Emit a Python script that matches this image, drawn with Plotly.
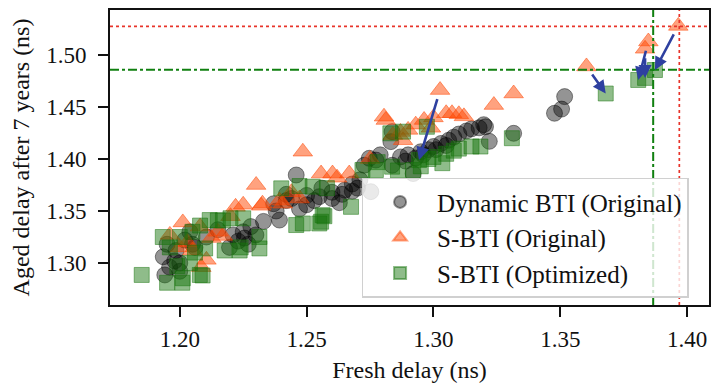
import plotly.graph_objects as go

# ---------------- data ----------------
dyn_x = [1.1935, 1.1941, 1.1960, 1.1950, 1.1985, 1.2000, 1.2020, 1.2050, 1.2040, 1.2105,
         1.2150, 1.2196, 1.2210, 1.2255, 1.2270, 1.2300, 1.2280, 1.2330, 1.2393, 1.2380,
         1.2370, 1.2459, 1.2420, 1.2472, 1.2500, 1.2550, 1.2560, 1.2600, 1.2629, 1.2650,
         1.2680, 1.2700, 1.2747, 1.2753, 1.2773, 1.2727, 1.2790, 1.2837, 1.2832, 1.2837,
         1.2870, 1.2900, 1.2920, 1.2950, 1.2980, 1.3000, 1.3030, 1.3060, 1.3080, 1.3100,
         1.3130, 1.3150, 1.3180, 1.3198, 1.3220, 1.3205, 1.3316, 1.3477, 1.3505, 1.3517,
         1.2890, 1.2930, 1.2960, 1.3010, 1.3050, 1.2420, 1.2440, 1.2500, 1.2530, 1.2600,
         1.2640, 1.2680, 1.2710, 1.2250, 1.2230, 1.2000, 1.1980, 1.2060]
dyn_y = [1.306, 1.2885, 1.296, 1.318, 1.312, 1.300, 1.322, 1.318, 1.330, 1.325,
         1.332, 1.315, 1.327, 1.324, 1.318, 1.327, 1.335, 1.340, 1.3413, 1.350,
         1.357, 1.3846, 1.360, 1.352, 1.356, 1.3638, 1.372, 1.368, 1.358, 1.370,
         1.376, 1.372, 1.4007, 1.3686, 1.399, 1.394, 1.404, 1.4263, 1.4167, 1.394,
         1.402, 1.404, 1.386, 1.407, 1.409, 1.412, 1.415, 1.418, 1.421, 1.424,
         1.427, 1.429, 1.430, 1.433, 1.417, 1.431, 1.4247, 1.444, 1.448, 1.460,
         1.398, 1.401, 1.404, 1.409, 1.413, 1.366, 1.362, 1.365, 1.360, 1.362,
         1.366, 1.369, 1.380, 1.330, 1.321, 1.292, 1.302, 1.315]

sbti_x = [1.1961, 1.2012, 1.2000, 1.2030, 1.2050, 1.2105, 1.2125, 1.2080, 1.2150, 1.2200,
          1.2220, 1.2250, 1.2301, 1.2326, 1.2321, 1.2393, 1.2406, 1.2472, 1.2485, 1.2557,
          1.2602, 1.2620, 1.2668, 1.2750, 1.2805, 1.2812, 1.2840, 1.2870, 1.2900, 1.2930,
          1.2963, 1.3000, 1.3026, 1.3050, 1.3073, 1.3100, 1.3120, 1.3238, 1.3316, 1.3603,
          1.3834, 1.3847, 1.3965, 1.2085, 1.2170, 1.2440, 1.2880, 1.2990]
sbti_y = [1.327, 1.339, 1.315, 1.320, 1.312, 1.303, 1.324, 1.335, 1.330, 1.345,
          1.354, 1.356, 1.375, 1.357, 1.355, 1.360, 1.357, 1.362, 1.407, 1.386,
          1.386, 1.382, 1.386, 1.400, 1.4407, 1.4375, 1.423, 1.426, 1.428, 1.433,
          1.4375, 1.440, 1.4663, 1.444, 1.444, 1.443, 1.441, 1.4519, 1.463, 1.489,
          1.506, 1.513, 1.528, 1.296, 1.326, 1.368, 1.418, 1.430]

opt_x = [1.1850, 1.1933, 1.1950, 1.1961, 1.2012, 1.2010, 1.2040, 1.2079, 1.2090, 1.2100,
         1.2118, 1.2170, 1.2177, 1.2236, 1.2240, 1.2314, 1.2314, 1.2000, 1.2050, 1.2080,
         1.2150, 1.2200, 1.2250, 1.2400, 1.2459, 1.2472, 1.2485, 1.2524, 1.2550, 1.2557,
         1.2563, 1.2580, 1.2675, 1.2720, 1.2773, 1.2780, 1.2837, 1.2860, 1.2920, 1.2943,
         1.2950, 1.2974, 1.2980, 1.3000, 1.3035, 1.3050, 1.3080, 1.3100, 1.3150, 1.3185,
         1.3309, 1.3679, 1.3807, 1.3834, 1.3873, 1.2830, 1.2880, 1.2570, 1.1990, 1.2060]
opt_y = [1.2885, 1.325, 1.281, 1.315, 1.2853, 1.281, 1.300, 1.2885, 1.288, 1.314,
         1.3413, 1.341, 1.312, 1.312, 1.315, 1.314, 1.325, 1.325, 1.330, 1.336,
         1.341, 1.343, 1.343, 1.3718, 1.3365, 1.374, 1.338, 1.3734, 1.338, 1.3397,
         1.346, 1.372, 1.354, 1.3894, 1.3894, 1.397, 1.3926, 1.389, 1.3894, 1.3990,
         1.393, 1.431, 1.400, 1.402, 1.396, 1.405, 1.408, 1.410, 1.412, 1.412,
         1.420, 1.463, 1.476, 1.478, 1.4856, 1.4247, 1.4263, 1.345, 1.297, 1.310]

# arrows: from S-BTI (original) point to S-BTI (optimized) point
arrow_from_x = [1.3026, 1.3603, 1.3847, 1.3834, 1.3965]
arrow_from_y = [1.4663, 1.489, 1.513, 1.506, 1.528]
arrow_to_x = [1.2943, 1.3679, 1.3807, 1.3834, 1.3873]
arrow_to_y = [1.3990, 1.463, 1.476, 1.478, 1.4856]

orig_worst_x, orig_worst_y = 1.3969, 1.5276
opt_worst_x, opt_worst_y = 1.3866, 1.4859

x_ticks = [1.20, 1.25, 1.30, 1.35, 1.40]
y_ticks = [1.30, 1.35, 1.40, 1.45, 1.50]

# ---------------- figure ----------------
FONT = "Liberation Serif"
TXT = "#111111"
fig = go.Figure()

c_dyn = "rgba(0,0,0,0.42)"
c_sbti = "rgba(255,69,0,0.5)"
c_opt = "rgba(20,115,10,0.48)"

fig.add_trace(go.Scatter(x=dyn_x, y=dyn_y, mode="markers", name="Dynamic BTI (Original)",
                         marker=dict(symbol="circle", size=16, color=c_dyn,
                                     line=dict(width=1, color=c_dyn))))
fig.add_trace(go.Scatter(x=sbti_x, y=sbti_y, mode="markers", name="S-BTI (Original)",
                         marker=dict(symbol="triangle-up", size=17, color=c_sbti,
                                     line=dict(width=1, color=c_sbti))))
fig.add_trace(go.Scatter(x=opt_x, y=opt_y, mode="markers", name="S-BTI (Optimized)",
                         marker=dict(symbol="square", size=15, color=c_opt,
                                     line=dict(width=1, color=c_opt))))

# reference lines
fig.add_hline(y=orig_worst_y, line=dict(color="#e8342a", width=1.7, dash="dot"))
fig.add_vline(x=orig_worst_x, line=dict(color="#e8342a", width=1.7, dash="dot"))
fig.add_hline(y=opt_worst_y, line=dict(color="#108010", width=2, dash="dashdot"))
fig.add_vline(x=opt_worst_x, line=dict(color="#108010", width=2, dash="dashdot"))

for fx, fy, tx, ty in zip(arrow_from_x, arrow_from_y, arrow_to_x, arrow_to_y):
    fig.add_annotation(x=tx, y=ty, ax=fx, ay=fy, xref="x", yref="y", axref="x", ayref="y",
                       showarrow=True, arrowhead=2, arrowsize=1.0, arrowwidth=2.6,
                       arrowcolor="#2e40a0", startstandoff=8, standoff=0, text="")

axis_common = dict(showgrid=False, zeroline=False, showline=True, linecolor="#111",
                   linewidth=2, mirror=True, ticks="outside", ticklen=10, tickwidth=2,
                   tickcolor="#111", tickfont=dict(family=FONT, size=23, color=TXT))

fig.update_xaxes(range=[1.1725, 1.4086], tickvals=x_ticks,
                 ticktext=[f"{v:.2f}" for v in x_ticks],
                 ticklabelstandoff=2,
                 title=dict(text="Fresh delay (ns)", font=dict(family=FONT, size=24, color=TXT),
                            standoff=11),
                 **axis_common)
fig.update_yaxes(range=[1.2596, 1.5433], tickvals=y_ticks,
                 ticktext=[f"{v:.2f}" for v in y_ticks],
                 ticklabelstandoff=7,
                 title=dict(text="Aged delay after 7 years (ns)",
                            font=dict(family=FONT, size=24, color=TXT), standoff=10),
                 **axis_common)

fig.update_layout(
    width=712, height=384,
    margin=dict(l=110, r=1, t=10, b=79),
    plot_bgcolor="white", paper_bgcolor="white",
    showlegend=True,
    legend=dict(x=0.42, y=0.025, xanchor="left", yanchor="bottom",
                bgcolor="rgba(255,255,255,0.8)", bordercolor="#d0d0d0", borderwidth=1.5,
                font=dict(family=FONT, size=25, color=TXT), itemsizing="constant",
                itemwidth=64, tracegroupgap=0),
)

fig.write_html("out.html")
